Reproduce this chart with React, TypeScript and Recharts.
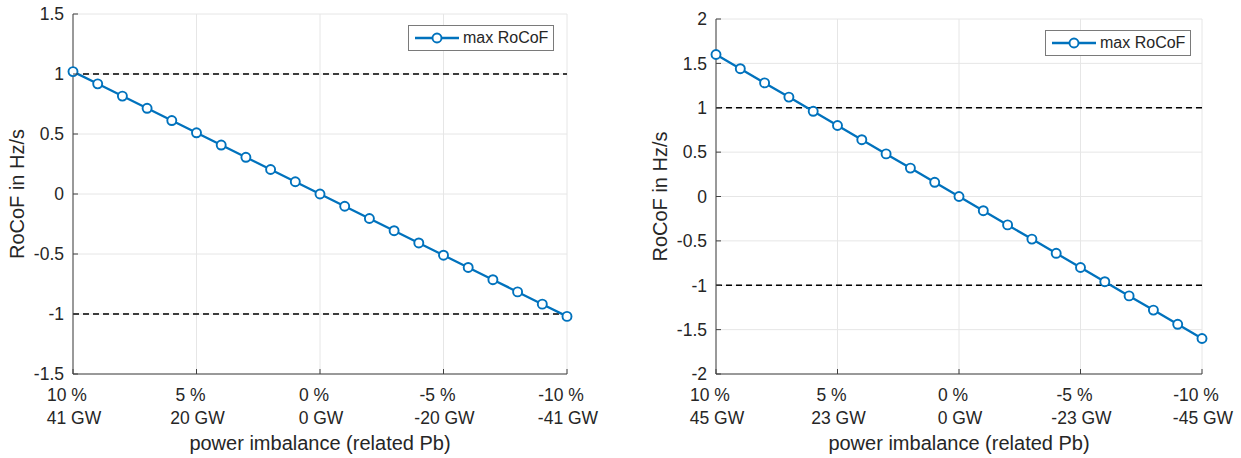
import React from 'react';
import { LineChart, Line, XAxis, YAxis, CartesianGrid, ReferenceLine, Legend } from 'recharts';

// shared x positions (power imbalance in % of Pb)
const pctSteps = [10, 9, 8, 7, 6, 5, 4, 3, 2, 1, 0, -1, -2, -3, -4, -5, -6, -7, -8, -9, -10];
const pctTicks = [10, 5, 0, -5, -10];

// left panel
const gwTicksLeft = [41, 20, 0, -20, -41];
const rocofLeft = [1.02, 0.918, 0.816, 0.714, 0.612, 0.51, 0.408, 0.306, 0.204, 0.102, 0, -0.102, -0.204, -0.306, -0.408, -0.51, -0.612, -0.714, -0.816, -0.918, -1.02];
const yTicksLeft = [-1.5, -1, -0.5, 0, 0.5, 1, 1.5];

// right panel
const gwTicksRight = [45, 23, 0, -23, -45];
const rocofRight = [1.6, 1.44, 1.28, 1.12, 0.96, 0.8, 0.64, 0.48, 0.32, 0.16, 0, -0.16, -0.32, -0.48, -0.64, -0.8, -0.96, -1.12, -1.28, -1.44, -1.6];
const yTicksRight = [-2, -1.5, -1, -0.5, 0, 0.5, 1, 1.5, 2];

const limits = [1, -1];

const FONT = '"Liberation Sans", Arial, Helvetica, sans-serif';
const BLUE = '#0072BD';
const AXIS = '#404040';
const TXT = '#262626';

const XTick = ({ x, y, payload, index, gw }: any) => (
  <g>
    <line x1={x} x2={x} y1={y} y2={y - 5} stroke={AXIS} strokeWidth={1} />
    <text x={x - 6} y={y + 27} textAnchor="middle" fontSize={17.5} fill={TXT} fontFamily={FONT}>
      {`${payload.value} %`}
    </text>
    <text x={x + 1} y={y + 50} textAnchor="middle" fontSize={17.5} fill={TXT} fontFamily={FONT}>
      {`${gw[index]} GW`}
    </text>
  </g>
);

const YTick = ({ x, y, payload }: any) => (
  <g>
    <line x1={x} x2={x + 5} y1={y} y2={y} stroke={AXIS} strokeWidth={1} />
    <text x={x - 9} y={y} dy="0.36em" textAnchor="end" fontSize={17.5} fill={TXT} fontFamily={FONT}>
      {String(payload.value)}
    </text>
  </g>
);

const LegendBox = () => (
  <div
    style={{
      width: 146,
      height: 26,
      boxSizing: 'border-box',
      border: '1px solid #7a7a7a',
      background: '#fff',
      position: 'relative',
      fontFamily: FONT,
    }}
  >
    <svg width={52} height={24} style={{ position: 'absolute', left: 4, top: 0 }}>
      <line x1={2} x2={46} y1={12} y2={12} stroke={BLUE} strokeWidth={2.3} />
      <circle cx={24} cy={12} r={4.5} stroke={BLUE} strokeWidth={1.9} fill="#fff" />
    </svg>
    <span style={{ position: 'absolute', left: 54, top: 3, fontSize: 16, color: TXT, lineHeight: '18px', whiteSpace: 'nowrap' }}>
      max RoCoF
    </span>
  </div>
);

interface PanelProps {
  values: number[];
  gw: number[];
  yTicks: number[];
  left: number;
  width: number;
  top: number;
  axisW: number;
  right: number;
  legendPos: { left: number; top: number };
}

const Panel: React.FC<PanelProps> = ({ values, gw, yTicks, left, width, top, axisW, right, legendPos }) => {
  const data = pctSteps.map((p, i) => ({ pct: p, rocof: values[i] }));
  const yMin = yTicks[0];
  const yMax = yTicks[yTicks.length - 1];
  return (
    <div style={{ position: 'absolute', left, top: 0 }}>
      <LineChart width={width} height={458} data={data} margin={{ top, right, bottom: 0, left: 0 }}>
        <CartesianGrid stroke="#e6e6e6" />
        <XAxis
          dataKey="pct"
          type="number"
          domain={[-10, 10]}
          reversed
          ticks={pctTicks}
          interval={0}
          height={84}
          tickSize={0}
          tickMargin={0}
          tickLine={false}
          axisLine={{ stroke: AXIS }}
          tick={<XTick gw={gw} />}
          label={{
            content: ({ viewBox }: any) => (
              <text
                x={viewBox.x + viewBox.width / 2}
                y={viewBox.y + 76}
                textAnchor="middle"
                fontSize={20}
                fill={TXT}
                fontFamily={FONT}
              >
                power imbalance (related Pb)
              </text>
            ),
          }}
        />
        <YAxis
          type="number"
          domain={[yMin, yMax]}
          ticks={yTicks}
          interval={0}
          width={axisW}
          tickSize={0}
          tickMargin={0}
          tickLine={false}
          axisLine={{ stroke: AXIS }}
          tick={<YTick />}
          label={{
            content: ({ viewBox }: any) => {
              const cx = viewBox.x + viewBox.width - 56;
              const cy = viewBox.y + viewBox.height / 2;
              return (
                <text
                  x={cx}
                  y={cy}
                  dy="0.35em"
                  transform={`rotate(-90 ${cx} ${cy})`}
                  textAnchor="middle"
                  fontSize={20}
                  fill={TXT}
                  fontFamily={FONT}
                >
                  RoCoF in Hz/s
                </text>
              );
            },
          }}
        />
        {limits.map((v) => (
          <ReferenceLine key={v} y={v} stroke="#000" strokeDasharray="6 4" strokeWidth={1.3} />
        ))}
        <Line
          dataKey="rocof"
          name="max RoCoF"
          stroke={BLUE}
          strokeWidth={2.3}
          dot={{ r: 4.5, stroke: BLUE, strokeWidth: 1.9, fill: '#fff' }}
          activeDot={false}
          isAnimationActive={false}
        />
        <Legend
          layout="vertical"
          align="center"
          verticalAlign="middle"
          wrapperStyle={{ left: legendPos.left, top: legendPos.top, width: 146, height: 26 }}
          content={() => <LegendBox />}
        />
      </LineChart>
    </div>
  );
};

export default function App() {
  return (
    <div style={{ position: 'absolute', left: 0, top: 0, width: 1241, height: 458, background: '#fff' }}>
      <Panel
        values={rocofLeft}
        gw={gwTicksLeft}
        yTicks={yTicksLeft}
        left={0}
        width={620}
        top={14}
        axisW={73}
        right={53}
        legendPos={{ left: 408, top: 25 }}
      />
      <Panel
        values={rocofRight}
        gw={gwTicksRight}
        yTicks={yTicksRight}
        left={620}
        width={621}
        top={19}
        axisW={96}
        right={39}
        legendPos={{ left: 425, top: 30 }}
      />
    </div>
  );
}
